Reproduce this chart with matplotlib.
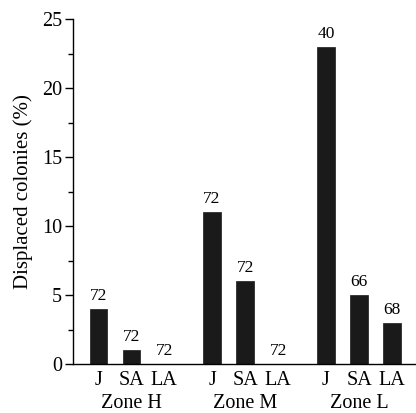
import matplotlib
matplotlib.use("Agg")
import matplotlib.pyplot as plt
from matplotlib.ticker import MultipleLocator

zones = ["Zone H", "Zone M", "Zone L"]
stages = ["J", "SA", "LA"]
values = [[4, 1, 0], [11, 6, 0], [23, 5, 3]]
counts = [[72, 72, 72], [72, 72, 72], [40, 66, 68]]
yticks = [0, 5, 10, 15, 20, 25]

plt.rcParams['font.family'] = ['Liberation Serif', 'DejaVu Serif']

fig = plt.figure(figsize=(4.16, 4.13), dpi=100)
ax = fig.add_axes([0.1755, 0.1186, 0.8225, 0.8354])

group_step = 3.45
bar_w = 0.52
positions, labels = [], []
for g, zone in enumerate(zones):
    for s, st in enumerate(stages):
        x = g * group_step + s
        v = values[g][s]
        ax.bar(x, v, width=bar_w, color='#1a1a1a', edgecolor='#1a1a1a', linewidth=0.5)
        ax.text(x, v + 0.35, str(counts[g][s]), ha='center', va='bottom', fontsize=12.5)
        positions.append(x)
        labels.append(st)
    ax.text(g * group_step + 1, -0.128, zone, ha='center', va='baseline', fontsize=14.5,
            transform=ax.get_xaxis_transform())

ax.set_xlim(-0.76, 9.6)
ax.set_ylim(0, 25)
ax.set_yticks(yticks)
ax.yaxis.set_minor_locator(MultipleLocator(2.5))
ax.set_xticks(positions)
ax.set_xticklabels(labels, fontsize=14.5)
ax.tick_params(axis='x', length=0, pad=5)
ax.tick_params(axis='y', which='major', length=6, width=1, labelsize=14.5, direction='out', pad=2)
ax.tick_params(axis='y', which='minor', length=3.5, width=1, direction='out')
ax.spines['top'].set_visible(False)
ax.spines['right'].set_visible(False)
ax.spines['left'].set_linewidth(1)
ax.spines['bottom'].set_linewidth(1)
ax.set_ylabel("Displaced colonies (%)", fontsize=15, labelpad=6)

fig.savefig("out.png", dpi=100)
